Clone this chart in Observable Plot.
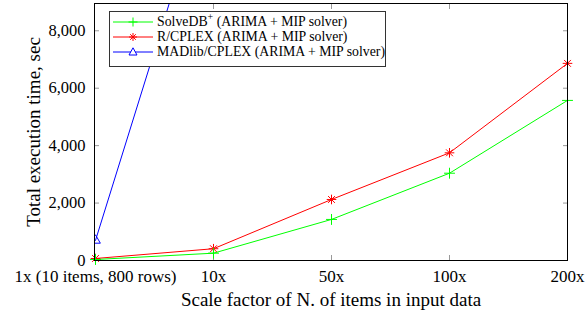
<!DOCTYPE html>
<html><head><meta charset="utf-8">
<script src="https://cdn.jsdelivr.net/npm/d3@7"></script>
<script src="https://cdn.jsdelivr.net/npm/@observablehq/plot@0.6"></script>
<style>
body{margin:0;background:#fff;}
#wrap{position:relative;width:587px;height:314px;font-family:"Liberation Serif",serif;}
#legend{position:absolute;left:109px;top:11px;width:277px;height:56px;box-sizing:border-box;border:1px solid #333;background:#fff;font-size:13.8px;color:#000;padding-top:2px;}
.row{height:15px;line-height:15px;display:flex;align-items:center;white-space:nowrap;}
.row svg{margin-left:3px;margin-right:4px;flex:none;}
sup{font-size:10px;line-height:0;}
svg text{font-family:"Liberation Serif",serif;}
</style></head>
<body><div id="wrap"></div>
<script>
const categories = ["1x (10 items, 800 rows)", "10x", "50x", "100x", "200x"];
const solvedb = [35, 255, 1430, 3040, 5575];
const rcplex = [70, 410, 2125, 3750, 6865];
const madlib = [700, 13900];
const yTicks = [0, 2000, 4000, 6000, 8000];
const seriesNames = ["SolveDB<sup>+</sup> (ARIMA + MIP solver)", "R/CPLEX (ARIMA + MIP solver)", "MADlib/CPLEX (ARIMA + MIP solver)"];
const seriesColors = ["#00ff00", "#ff0000", "#0000ff"];

const toRows = (vals, s) => vals.map((v, i) => ({x: categories[i], y: v, s}));
const green = toRows(solvedb, 0), red = toRows(rcplex, 1), blue = toRows(madlib, 2);
const inner = categories.slice(1, 4);

const chart = Plot.plot({
  width: 587, height: 314,
  marginLeft: 94, marginRight: 20, marginTop: 3, marginBottom: 54,
  style: {fontFamily: '"Liberation Serif", serif', fontSize: "17px", color: "#000", background: "#fff"},
  x: {type: "point", domain: categories, padding: 0},
  y: {domain: [0, 8950]},
  marks: [
    Plot.axisY(yTicks, {anchor: "left", tickSize: -5, tickPadding: 14, stroke: "#999", fill: "#000", fontSize: 16.5, tickFormat: d3.format(","), label: null}),
    Plot.axisY({anchor: "left", ticks: [], label: "Total execution time, sec", labelAnchor: "center", labelArrow: "none", labelOffset: 68, fontSize: 19, dy: -4}),
    Plot.axisY(yTicks.slice(1), {anchor: "right", tickSize: -5, stroke: "#999", tickFormat: () => "", label: null}),
    Plot.axisX(categories, {anchor: "bottom", tickSize: 0, tickPadding: 9, fontSize: 17, label: null}),
    Plot.axisX({anchor: "bottom", ticks: [], label: "Scale factor of N. of items in input data", labelAnchor: "center", labelArrow: "none", labelOffset: 45, fontSize: 19}),
    Plot.axisX(inner, {anchor: "bottom", tickSize: -5, stroke: "#999", tickFormat: () => "", label: null}),
    Plot.axisX(inner, {anchor: "top", tickSize: -5, stroke: "#999", tickFormat: () => "", label: null}),
    Plot.lineY(blue, {x: "x", y: "y", stroke: seriesColors[2], strokeWidth: 1, clip: true}),
    Plot.lineY(red, {x: "x", y: "y", stroke: seriesColors[1], strokeWidth: 1}),
    Plot.lineY(green, {x: "x", y: "y", stroke: seriesColors[0], strokeWidth: 1}),
    Plot.dot(blue, {x: "x", y: "y", symbol: "triangle", r: 3.6, stroke: seriesColors[2], fill: "none", strokeWidth: 1, clip: true}),
    Plot.dot(red, {x: "x", y: "y", symbol: "plus", r: 3.2, stroke: seriesColors[1], strokeWidth: 1}),
    Plot.dot(red, {x: "x", y: "y", symbol: "times", r: 3.2, stroke: seriesColors[1], strokeWidth: 1}),
    Plot.dot(green, {x: "x", y: "y", symbol: "plus", r: 3.6, stroke: seriesColors[0], strokeWidth: 1}),
    Plot.frame({stroke: "#000", strokeWidth: 1})
  ]
});
const wrap = document.getElementById("wrap");
wrap.appendChild(chart);

const legend = document.createElement("div");
legend.id = "legend";
const markers = [
  '<path d="M0,6H40M20,1.5V10.5M15.5,6H24.5" stroke="#00ff00" fill="none"/>',
  '<path d="M0,6H40M20,2V10M16,6H24M17.2,3.2L22.8,8.8M22.8,3.2L17.2,8.8" stroke="#ff0000" fill="none"/>',
  '<path d="M0,6H40" stroke="#0000ff"/><path d="M20,1.8L24,9H16Z" stroke="#0000ff" fill="#fff"/>'
];
seriesNames.forEach((n, i) => {
  const r = document.createElement("div");
  r.className = "row";
  r.innerHTML = `<svg width="40" height="12">${markers[i]}</svg><span>${n}</span>`;
  legend.appendChild(r);
});
wrap.appendChild(legend);
</script></body></html>
